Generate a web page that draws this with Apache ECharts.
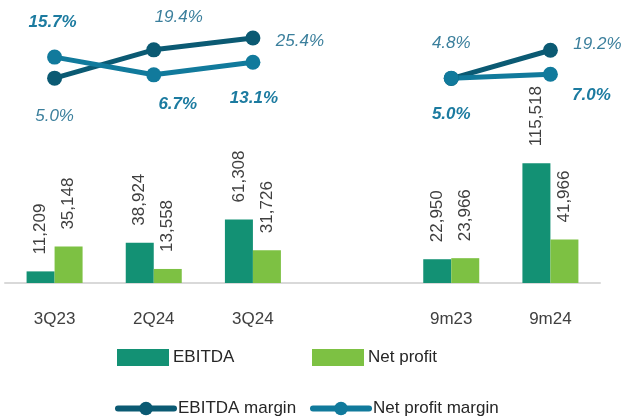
<!DOCTYPE html>
<html>
<head>
<meta charset="utf-8">
<script src="https://cdn.jsdelivr.net/npm/echarts@6/dist/echarts.min.js"></script>
<style>
  html, body { margin: 0; padding: 0; background: #fff; }
  #chart { width: 624px; height: 417px; }
</style>
</head>
<body>
<div id="chart"></div>
<script>
// chart data
var categories = ['3Q23', '2Q24', '3Q24', '', '9m23', '9m24'];
var ebitda = [11209, 38924, 61308, '-', 22950, 115518];
var netProfit = [35148, 13558, 31726, '-', 23966, 41966];
var ebitdaMargin = [5.0, 19.4, 25.4, '-', 4.8, 19.2];
var netMargin = [15.7, 6.7, 13.1, '-', 5.0, 7.0];

var FONT = 'Liberation Sans';
var darkLine = '#0b5a73';
var lightLine = '#117a9c';

// label offsets around each margin point
var ebitdaMarginOffsets = [[0, 38], [25, -33], [47, 3], null, [0, -35], [47, -6]];
var netMarginOffsets = [[-2, -35], [24, 29], [1, 36], null, [0, 36], [41, 21]];

function marginItems(values, offsets) {
  return values.map(function (v, i) {
    if (v === '-') return '-';
    return { value: v, label: { offset: offsets[i] } };
  });
}

function legendFor(name, left, top, width, isLine) {
  var l = {
    data: [name], left: left, top: top, padding: 0,
    itemWidth: width, itemHeight: 17, itemGap: 0,
    textStyle: { fontSize: 17, color: '#262626', fontFamily: FONT, padding: [0, 0, 0, -1] }
  };
  if (isLine) {
    l.lineStyle = { width: 6, cap: 'round' };
  } else {
    l.icon = 'rect';
  }
  return l;
}

var myChart = echarts.init(document.getElementById('chart'));

var barLabel = {
  show: true, position: 'top', rotate: 90, align: 'left', verticalAlign: 'middle',
  distance: 17, fontSize: 17, color: '#3f3f3f', fontFamily: FONT,
  formatter: function (p) { return p.value.toLocaleString('en-US'); }
};

var option = {
  animation: false,
  textStyle: { fontFamily: FONT },
  grid: [
    { left: 5, right: 24, top: 29, height: 59 },
    { left: 5, right: 24, top: 158.7, height: 124.3 }
  ],
  xAxis: [
    {
      gridIndex: 0,
      type: 'category',
      data: categories,
      show: false
    },
    {
      gridIndex: 1,
      type: 'category',
      data: categories,
      axisLine: { lineStyle: { color: '#d9d9d9', width: 2 } },
      axisTick: { show: false },
      axisLabel: { color: '#404040', fontSize: 17, fontFamily: FONT, margin: 28 }
    }
  ],
  yAxis: [
    { gridIndex: 0, type: 'value', min: 0, max: 30, show: false },
    { gridIndex: 1, type: 'value', min: 0, max: 120000, show: false }
  ],
  legend: [
    legendFor('EBITDA', 117, 349, 52, false),
    legendFor('Net profit', 312, 349, 52, false),
    legendFor('EBITDA margin', 115, 400, 56, true),
    legendFor('Net profit margin', 310, 400, 56, true)
  ],
  series: [
    {
      name: 'EBITDA',
      type: 'bar',
      xAxisIndex: 1,
      yAxisIndex: 1,
      data: ebitda,
      barWidth: 28,
      barGap: '0%',
      itemStyle: { color: '#139174' },
      label: barLabel
    },
    {
      name: 'Net profit',
      type: 'bar',
      xAxisIndex: 1,
      yAxisIndex: 1,
      data: netProfit,
      barWidth: 28,
      itemStyle: { color: '#7dc143' },
      label: barLabel
    },
    {
      name: 'EBITDA margin',
      type: 'line',
      xAxisIndex: 0,
      yAxisIndex: 0,
      data: marginItems(ebitdaMargin, ebitdaMarginOffsets),
      symbol: 'circle',
      symbolSize: 15,
      lineStyle: { color: darkLine, width: 5 },
      itemStyle: { color: darkLine },
      label: {
        show: true, position: 'inside', fontSize: 17, fontStyle: 'italic',
        color: '#3b7f9c', fontFamily: FONT,
        formatter: function (p) { return p.value.toFixed(1) + '%'; }
      }
    },
    {
      name: 'Net profit margin',
      type: 'line',
      xAxisIndex: 0,
      yAxisIndex: 0,
      data: marginItems(netMargin, netMarginOffsets),
      symbol: 'circle',
      symbolSize: 15,
      lineStyle: { color: lightLine, width: 5 },
      itemStyle: { color: lightLine },
      label: {
        show: true, position: 'inside', fontSize: 17, fontStyle: 'italic', fontWeight: 'bold',
        color: '#1c7ba0', fontFamily: FONT,
        formatter: function (p) { return p.value.toFixed(1) + '%'; }
      }
    }
  ]
};

myChart.setOption(option);
</script>
</body>
</html>
